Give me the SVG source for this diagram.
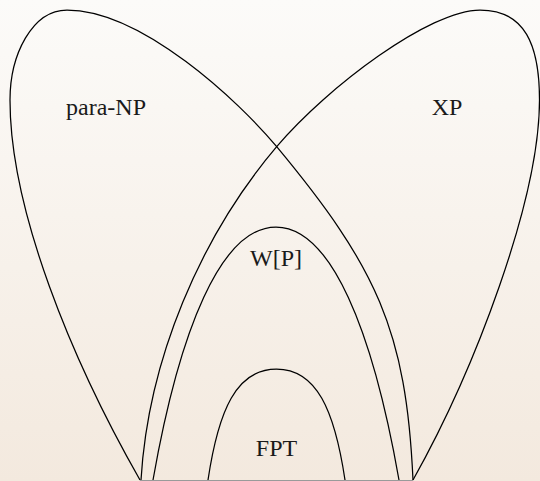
<svg xmlns="http://www.w3.org/2000/svg" width="540" height="481" viewBox="0 0 540 481">
  <defs>
    <linearGradient id="bg" x1="0" y1="0" x2="0" y2="1">
      <stop offset="0" stop-color="#fcfbf9"/>
      <stop offset="1" stop-color="#f3e9de"/>
    </linearGradient>
  </defs>
  <style>
    .set { fill: none; stroke: #000; stroke-width: 1.25; }
    .lbl { font-size: 24px; fill: #1a1a1a; text-anchor: middle; }
    .base { stroke: #9a9a9a; stroke-width: 1.2; }
  </style>
  <rect x="0" y="0" width="540" height="481" fill="url(#bg)"/>
  <g id="para-np">
    <path class="set" d="M140,480 C71.6,360 10,210 10,100 C10,55 32,10 67,10 C142,10 239.3,101.7 276.7,146.7 C376.3,266.7 406.25,330 413,480"/>
    <text class="lbl" font-family="Liberation Serif, serif" x="106" y="115">para-NP</text>
  </g>
  <g id="xp">
    <path class="set" d="M141,480 C148.2,360 200.2,236.7 276.7,146.7 C327.7,86.7 430,10 480,10 C525,10 539.5,45 539.5,100 C539.5,200 474.6,370 413,480"/>
    <text class="lbl" font-family="Liberation Serif, serif" x="447" y="115">XP</text>
  </g>
  <g id="wp">
    <path class="set" d="M153,480 C179.4,330 221,227 276,227 C331,227 372.6,330 399,480"/>
    <text class="lbl" font-family="Liberation Serif, serif" x="276" y="266">W[P]</text>
  </g>
  <g id="fpt">
    <path class="set" d="M208,480 C218.5,410 236.5,369 276.5,369 C316.5,369 334.5,410 345,480"/>
    <text class="lbl" font-family="Liberation Serif, serif" x="276.5" y="456">FPT</text>
  </g>
  <g id="connectors">
    <line class="base" x1="140" y1="480.6" x2="413" y2="480.6"/>
  </g>
</svg>
